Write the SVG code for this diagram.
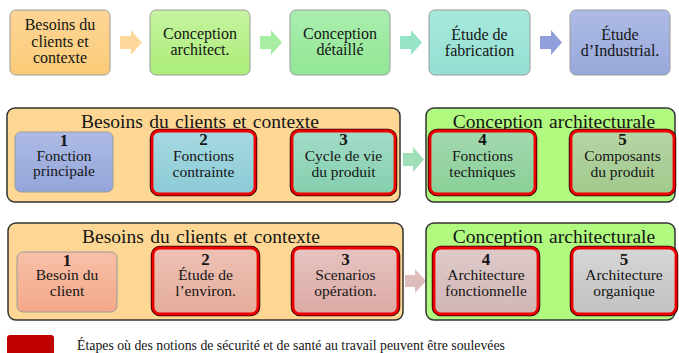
<svg xmlns="http://www.w3.org/2000/svg" width="679" height="353" viewBox="0 0 679 353" font-family="'Liberation Serif', 'Times New Roman', serif">
<style>
text{fill:#151515;text-anchor:middle}
.t{font-size:16px}
.s{font-size:15.5px}
.n{font-size:17px;font-weight:bold}
.h{font-size:19.5px;word-spacing:1.5px}
.box{stroke:#9a9a9a;stroke-width:1}
.cont{stroke:#333;stroke-width:1.5}
.ro{fill:none;stroke:#2a0000;stroke-width:4.5}
.ri{stroke:#ee0000;stroke-width:2.8}
</style>
<defs>
<linearGradient id="g1" x1="0" y1="0" x2="0" y2="1"><stop offset="0" stop-color="#fdd596"/><stop offset="1" stop-color="#fbcc78"/></linearGradient>
<linearGradient id="g2" x1="0" y1="0" x2="0" y2="1"><stop offset="0" stop-color="#c6f3a0"/><stop offset="1" stop-color="#abed78"/></linearGradient>
<linearGradient id="g3" x1="0" y1="0" x2="0" y2="1"><stop offset="0" stop-color="#aaeeae"/><stop offset="1" stop-color="#92e696"/></linearGradient>
<linearGradient id="g4" x1="0" y1="0" x2="0" y2="1"><stop offset="0" stop-color="#a8e8dd"/><stop offset="1" stop-color="#93e0d2"/></linearGradient>
<linearGradient id="g5" x1="0" y1="0" x2="0" y2="1"><stop offset="0" stop-color="#aebbe5"/><stop offset="1" stop-color="#98a8da"/></linearGradient>
<linearGradient id="b1" x1="0" y1="0" x2="0" y2="1"><stop offset="0" stop-color="#aebbe6"/><stop offset="1" stop-color="#93a5d8"/></linearGradient>
<linearGradient id="b2" x1="0" y1="0" x2="0" y2="1"><stop offset="0" stop-color="#a6d9e2"/><stop offset="1" stop-color="#8ccbd6"/></linearGradient>
<linearGradient id="b3" x1="0" y1="0" x2="0" y2="1"><stop offset="0" stop-color="#a2dcc8"/><stop offset="1" stop-color="#84cfae"/></linearGradient>
<linearGradient id="b4" x1="0" y1="0" x2="0" y2="1"><stop offset="0" stop-color="#a4d9b0"/><stop offset="1" stop-color="#88cf96"/></linearGradient>
<linearGradient id="b5" x1="0" y1="0" x2="0" y2="1"><stop offset="0" stop-color="#b6d5a6"/><stop offset="1" stop-color="#a1c98c"/></linearGradient>
<linearGradient id="c1" x1="0" y1="0" x2="0" y2="1"><stop offset="0" stop-color="#f8c0a8"/><stop offset="1" stop-color="#f3a888"/></linearGradient>
<linearGradient id="c2" x1="0" y1="0" x2="0" y2="1"><stop offset="0" stop-color="#eec2b5"/><stop offset="1" stop-color="#e3ab9a"/></linearGradient>
<linearGradient id="c3" x1="0" y1="0" x2="0" y2="1"><stop offset="0" stop-color="#e6c4c0"/><stop offset="1" stop-color="#dba9a4"/></linearGradient>
<linearGradient id="c4" x1="0" y1="0" x2="0" y2="1"><stop offset="0" stop-color="#dfcaca"/><stop offset="1" stop-color="#d2b6b6"/></linearGradient>
<linearGradient id="c5" x1="0" y1="0" x2="0" y2="1"><stop offset="0" stop-color="#d6d6d6"/><stop offset="1" stop-color="#c2c2c2"/></linearGradient>
</defs>

<g id="connectors">
<path d="M120,36 h11 v-6 l11,12.5 l-11,12.5 v-6 h-11z" fill="#fdd79c"/>
<path d="M260,36 h11 v-6 l11,12.5 l-11,12.5 v-6 h-11z" fill="#a7eea2"/>
<path d="M400,36 h11 v-6 l11,12.5 l-11,12.5 v-6 h-11z" fill="#97e3c6"/>
<path d="M540,36 h11 v-6 l11,12.5 l-11,12.5 v-6 h-11z" fill="#8f9fd9"/>
<path d="M124,153 h10 v-6 l11,12.5 l-11,12.5 v-6 h-10z" fill="#a7b7e6"/>
<path d="M263,153 h10 v-6 l11,12.5 l-11,12.5 v-6 h-10z" fill="#98dcdc"/>
<path d="M403,153 h10 v-6 l11,12.5 l-11,12.5 v-6 h-10z" fill="#9edfb8"/>
<path d="M543,153 h10 v-6 l11,12.5 l-11,12.5 v-6 h-10z" fill="#c6e6b2"/>
<path d="M127,275 h10 v-6 l11,12 l-11,12 v-6 h-10z" fill="#f6c2a8"/>
<path d="M265,275 h10 v-6 l11,12 l-11,12 v-6 h-10z" fill="#ebbcb0"/>
<path d="M405,275 h10 v-6 l11,12 l-11,12 v-6 h-10z" fill="#ddbcbb"/>
<path d="M545,275 h10 v-6 l11,12 l-11,12 v-6 h-10z" fill="#d2d2d2"/>
</g>

<g id="r1n1"><rect class="box" x="10" y="10" width="100" height="65" rx="6" fill="url(#g1)"/>
<text class="t" x="60" y="30">Besoins du</text><text class="t" x="60" y="47">clients et</text><text class="t" x="60" y="63">contexte</text></g>
<g id="r1n2"><rect class="box" x="150" y="10" width="100" height="65" rx="6" fill="url(#g2)"/>
<text class="t" x="200" y="39">Conception</text><text class="t" x="200" y="55">architect.</text></g>
<g id="r1n3"><rect class="box" x="290" y="10" width="100" height="65" rx="6" fill="url(#g3)"/>
<text class="t" x="340" y="39">Conception</text><text class="t" x="340" y="55">détaillé</text></g>
<g id="r1n4"><rect class="box" x="429" y="10" width="101" height="65" rx="6" fill="url(#g4)"/>
<text class="t" x="479.5" y="40">Étude de</text><text class="t" x="479.5" y="56">fabrication</text></g>
<g id="r1n5"><rect class="box" x="570" y="10" width="100" height="65" rx="6" fill="url(#g5)"/>
<text class="t" x="620" y="40">Étude</text><text class="t" x="620" y="56">d’Industrial.</text></g>

<g id="r2left"><rect class="cont" x="7" y="108" width="393" height="94" rx="8" fill="#fdd793"/>
<text class="h" x="200" y="128">Besoins du clients et contexte</text></g>
<g id="r2right"><rect class="cont" x="426" y="108" width="249" height="94" rx="8" fill="#affa7f"/>
<text class="h" x="554" y="128">Conception architecturale</text></g>

<g id="r2n1"><rect class="box" x="15" y="132" width="98" height="60" rx="6" fill="url(#b1)"/>
<text class="n" x="64" y="146">1</text><text class="s" x="64" y="161">Fonction</text><text class="s" x="64" y="176">principale</text></g>
<g id="r2n2"><rect class="ro" x="152" y="131" width="103" height="63" rx="7"/><rect class="ri" x="152" y="131" width="103" height="63" rx="7" fill="url(#b2)"/>
<text class="n" x="203.5" y="145">2</text><text class="s" x="203.5" y="161">Fonctions</text><text class="s" x="203.5" y="177">contrainte</text></g>
<g id="r2n3"><rect class="ro" x="292" y="131" width="103" height="63" rx="7"/><rect class="ri" x="292" y="131" width="103" height="63" rx="7" fill="url(#b3)"/>
<text class="n" x="343.5" y="145">3</text><text class="s" x="343.5" y="161">Cycle de vie</text><text class="s" x="343.5" y="177">du produit</text></g>
<g id="r2n4"><rect class="ro" x="430" y="131" width="105" height="63" rx="7"/><rect class="ri" x="430" y="131" width="105" height="63" rx="7" fill="url(#b4)"/>
<text class="n" x="482.5" y="145">4</text><text class="s" x="482.5" y="161">Fonctions</text><text class="s" x="482.5" y="177">techniques</text></g>
<g id="r2n5"><rect class="ro" x="571" y="131" width="103" height="63" rx="7"/><rect class="ri" x="571" y="131" width="103" height="63" rx="7" fill="url(#b5)"/>
<text class="n" x="622.5" y="145">5</text><text class="s" x="622.5" y="161">Composants</text><text class="s" x="622.5" y="177">du produit</text></g>

<g id="r3left"><rect class="cont" x="8" y="223" width="395" height="97" rx="8" fill="#fdd793"/>
<text class="h" x="201" y="243">Besoins du clients et contexte</text></g>
<g id="r3right"><rect class="cont" x="426" y="223" width="249" height="97" rx="8" fill="#affa7f"/>
<text class="h" x="554" y="243">Conception architecturale</text></g>

<g id="r3n1"><rect class="box" x="17" y="252" width="100" height="60" rx="6" fill="url(#c1)"/>
<text class="n" x="67" y="266">1</text><text class="s" x="67" y="280">Besoin du</text><text class="s" x="67" y="296">client</text></g>
<g id="r3n2"><rect class="ro" x="153" y="248" width="105" height="66" rx="7"/><rect class="ri" x="153" y="248" width="105" height="66" rx="7" fill="url(#c2)"/>
<text class="n" x="205.5" y="265">2</text><text class="s" x="205.5" y="280">Étude de</text><text class="s" x="205.5" y="296">l’environ.</text></g>
<g id="r3n3"><rect class="ro" x="293" y="248" width="105" height="66" rx="7"/><rect class="ri" x="293" y="248" width="105" height="66" rx="7" fill="url(#c3)"/>
<text class="n" x="345.5" y="265">3</text><text class="s" x="345.5" y="280">Scenarios</text><text class="s" x="345.5" y="296">opération.</text></g>
<g id="r3n4"><rect class="ro" x="434" y="248" width="104" height="66" rx="7"/><rect class="ri" x="434" y="248" width="104" height="66" rx="7" fill="url(#c4)"/>
<text class="n" x="486" y="265">4</text><text class="s" x="486" y="280">Architecture</text><text class="s" x="486" y="296">fonctionnelle</text></g>
<g id="r3n5"><rect class="ro" x="572" y="248" width="104" height="66" rx="7"/><rect class="ri" x="572" y="248" width="104" height="66" rx="7" fill="url(#c5)"/>
<text class="n" x="624" y="265">5</text><text class="s" x="624" y="280">Architecture</text><text class="s" x="624" y="296">organique</text></g>

<g id="legend"><rect x="7" y="335" width="47" height="22" rx="3" fill="#c00000"/>
<text x="77" y="350" style="font-size:13.8px;text-anchor:start">Étapes où des notions de sécurité et de santé au travail peuvent être soulevées</text></g>
</svg>
